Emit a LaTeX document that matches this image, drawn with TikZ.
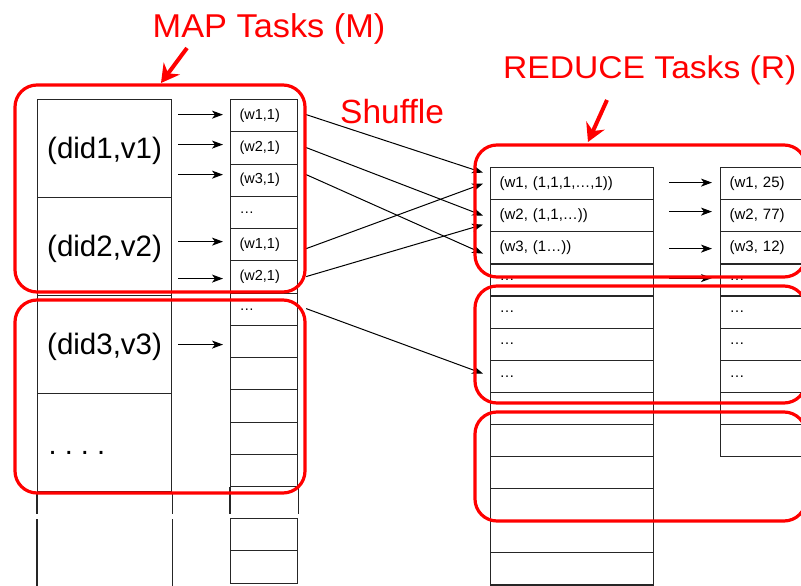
\documentclass[tikz,border=0pt]{standalone}
\usepackage{graphicx}
\usepackage{fontspec}
\setmainfont{Liberation Sans}
\usetikzlibrary{arrows.meta}
\begin{document}
\begin{tikzpicture}[x=1pt,y=-1pt,
  line/.style={draw=black!85, line width=1.2pt},
  docbox/.style={line, anchor=north west, minimum width=134pt, minimum height=98pt, inner sep=0pt, font=\fontsize{29.5}{34}\selectfont},
  pairrow/.style={line, anchor=north west, minimum height=32.25pt, inner xsep=9pt, inner ysep=0pt, text width=49pt, align=left, font=\fontsize{14.5}{17}\selectfont},
  redrow/.style={line, anchor=north west, minimum height=32.1pt, inner xsep=9pt, inner ysep=0pt, text width=145pt, align=left, font=\fontsize{15}{18}\selectfont},
  resrow/.style={line, anchor=north west, minimum height=32.1pt, inner xsep=9pt, inner ysep=0pt, text width=82pt, align=left, font=\fontsize{15}{18}\selectfont},
  arr/.style={-{Stealth[length=11pt,width=8pt,inset=3pt]}, line width=1pt, black},
  redbox/.style={draw=red, line width=3.2pt, rounded corners=22pt},
  redarr/.style={draw=red, line width=4pt, -{Stealth[length=18pt,width=20pt,inset=6pt]}},
  title/.style={text=red, inner sep=0pt, anchor=base west}
]
\useasboundingbox (0,0) rectangle (801,586);
\clip (0,0) rectangle (801,586);

% ---- documents (map input)
\node[docbox] (d1) at (37,99) {\raisebox{-2pt}[\height][\depth]{(did1,v1)}};
\node[docbox] (d2) at (37,197) {\raisebox{-2pt}[\height][\depth]{(did2,v2)}};
\node[docbox] (d3) at (37,295) {\raisebox{-2pt}[\height][\depth]{(did3,v3)}};
\node[docbox] (d4) at (37,393) {};
\node[inner sep=0pt, anchor=base west, font=\fontsize{29}{34}\selectfont] (dots) at ([xshift=11.5pt,yshift=-12pt]d4.west) {\frenchspacing . . . .};
\draw[line] (d4.south west) -- ++(0,22) ++(0,5) -- ++(0,80);
\draw[line] (d4.south east) -- ++(0,22) ++(0,5) -- ++(0,80);

% ---- intermediate pairs
\foreach \i/\t in {1/{(w1,1)},2/{(w2,1)},3/{(w3,1)},4/{…},5/{(w1,1)},6/{(w2,1)},7/{…},8/{},9/{},10/{},11/{},12/{}}
  \node[pairrow] (m\i) at (230,{99+(\i-1)*32.25}) {\t};
\draw[line] (m12.south west) -- ++(0,27);
\draw[line] (m12.south east) -- ++(0,27);
\node[pairrow] (mb1) at (230,518) {};
\node[pairrow] (mb2) at (230,550.25) {};

% ---- reduce input
\foreach \i/\t in {1/{(w1, (1,1,1,…,1))},2/{(w2, (1,1,…))},3/{(w3, (1…))},4/{…},5/{…},6/{…},7/{…},8/{},9/{},10/{},11/{},12/{},13/{}}
  \node[redrow] (r\i) at (490,{167+(\i-1)*32.1}) {\t};

% ---- reduce output
\foreach \i/\t in {1/{(w1, 25)},2/{(w2, 77)},3/{(w3, 12)},4/{…},5/{…},6/{…},7/{…},8/{},9/{}}
  \node[resrow] (o\i) at (720,{167+(\i-1)*32.1}) {\t};

% ---- map arrows
\draw[arr] ([xshift=-52pt,yshift=1.1pt]m1.west) -- ([xshift=-7pt,yshift=1.1pt]m1.west);
\draw[arr] ([xshift=-52pt,yshift=3.4pt]m2.west) -- ([xshift=-7pt,yshift=3.4pt]m2.west);
\draw[arr] ([xshift=-52pt,yshift=5.6pt]m3.west) -- ([xshift=-7pt,yshift=5.6pt]m3.west);
\draw[arr] ([xshift=-52pt,yshift=3.1pt]m5.west) -- ([xshift=-7pt,yshift=3.1pt]m5.west);
\draw[arr] ([xshift=-52pt,yshift=-1.6pt]m6.west) -- ([xshift=-7pt,yshift=-1.6pt]m6.west);
\draw[arr] ([xshift=-52pt,yshift=-3.1pt]m8.west) -- ([xshift=-7pt,yshift=-3.1pt]m8.west);

% ---- shuffle arrows
\draw[arr] ([xshift=8pt,yshift=1.1pt]m1.east) -- ([xshift=-7pt,yshift=11pt]r1.west);
\draw[arr] ([xshift=8pt,yshift=0.4pt]m2.east) -- ([xshift=-7pt,yshift=0.15pt]r2.west);
\draw[arr] ([xshift=8pt,yshift=5.6pt]m3.east) -- ([xshift=-7pt,yshift=-5.75pt]r3.west);
\draw[arr] ([xshift=8pt,yshift=-3.9pt]m5.east) -- ([xshift=-7pt]r1.west);
\draw[arr] ([xshift=8pt,yshift=0.4pt]m6.east) -- ([xshift=-7pt,yshift=-8.85pt]r2.west);
\draw[arr] ([xshift=8pt,yshift=0.6pt]m7.east) -- ([xshift=-7pt,yshift=2.65pt]r7.west);

% ---- reduce arrows
\draw[arr] ([xshift=15pt,yshift=1.05pt]r1.east) -- ([xshift=-8pt,yshift=1.05pt]o1.west);
\draw[arr] ([xshift=15pt,yshift=4.15pt]r2.east) -- ([xshift=-8pt,yshift=4.15pt]o2.west);
\draw[arr] ([xshift=15pt,yshift=-0.75pt]r3.east) -- ([xshift=-8pt,yshift=-0.75pt]o3.west);
\draw[arr] ([xshift=15pt,yshift=1.85pt]r4.east) -- ([xshift=-8pt,yshift=1.85pt]o4.west);

% ---- red task groups
\draw[redbox] (15,85) rectangle (305,292);
\draw[redbox] (15,300) rectangle (305,493);
\draw[redbox] (475,145) rectangle (806,277);
\draw[redbox] (475,286) rectangle (806,403);
\draw[redbox] (475,412) rectangle (806,521);

% ---- titles
\node[title, font=\fontsize{33}{38}\selectfont] (maptitle) at (152.5,38) {\scalebox{1.04}[1]{MAP Tasks (M)}};
\node[title, font=\fontsize{33.5}{38}\selectfont] (shuffle) at (340,123) {Shuffle};
\node[title, font=\fontsize{31.5}{36}\selectfont] (redtitle) at (503,79) {\scalebox{1.067}[1]{REDUCE Tasks (R)}};
\coordinate (mapfrom) at (187,48);
\coordinate (mapto) at (161,83);
\draw[redarr] (mapfrom) -- (mapto);
\coordinate (redfrom) at (607,100);
\coordinate (redto) at (588,142);
\draw[redarr] (redfrom) -- (redto);
\end{tikzpicture}
\end{document}
